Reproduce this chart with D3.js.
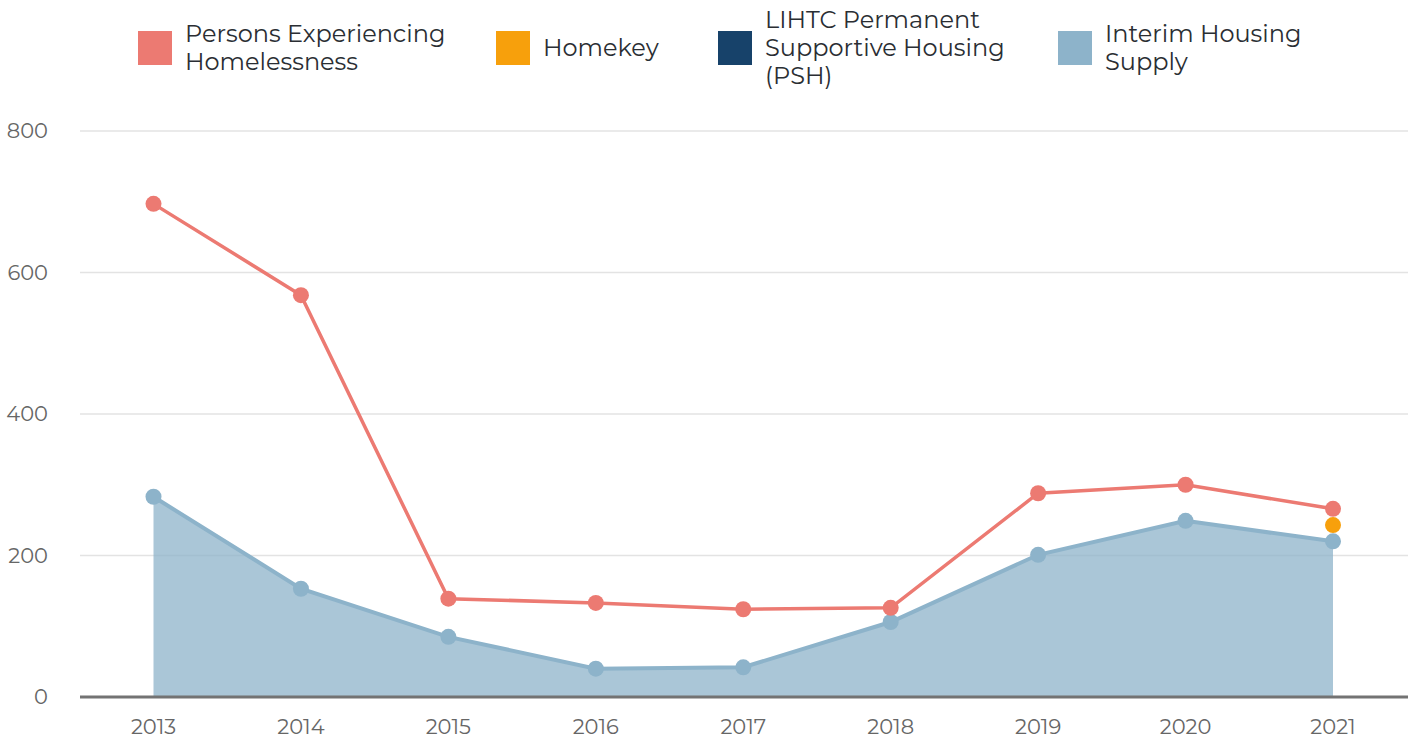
<!DOCTYPE html>
<html><head><meta charset="utf-8">
<script src="https://cdn.jsdelivr.net/npm/d3@7/dist/d3.min.js"></script>
<style>body{margin:0;background:#fff;} svg{display:block;}</style>
</head><body>
<svg id="chart" width="1413" height="739"></svg>
<script>
const years = [2013, 2014, 2015, 2016, 2017, 2018, 2019, 2020, 2021];
const persons = [697, 568, 139, 133, 124, 126, 288, 300, 266];
const interim = [283, 153, 85, 40, 42, 106, 201, 249, 220];
const homekey = [null, null, null, null, null, null, null, null, 243];
const lihtc = [null, null, null, null, null, null, null, null, null];
const yTicks = [0, 200, 400, 600, 800];
const legendItems = [
  {lines: ["Persons Experiencing", "Homelessness"], color: "#ec7a72"},
  {lines: ["Homekey"], color: "#f7a00c"},
  {lines: ["LIHTC Permanent", "Supportive Housing", "(PSH)"], color: "#17426a"},
  {lines: ["Interim Housing", "Supply"], color: "#8db3ca"}
];

(function(){
const svg = d3.select("#chart");
const font = "Montserrat, 'DejaVu Sans', sans-serif";
const pLeft = 80, pRight = 1408, pTop = 131, pBottom = 697;

const x = d3.scalePoint().domain(years).range([153.5, 1333]);
const y = d3.scaleLinear().domain([0, 800]).range([pBottom, pTop]);

svg.append("g").selectAll("line").data(yTicks.filter(d => d > 0)).join("line")
  .attr("x1", pLeft).attr("x2", pRight)
  .attr("y1", d => y(d)).attr("y2", d => y(d))
  .attr("stroke", "#e3e3e3").attr("stroke-width", 1.3);

svg.append("g").selectAll("text").data(yTicks).join("text")
  .attr("x", 48).attr("y", d => y(d)).attr("dy", "0.35em")
  .attr("text-anchor", "end").attr("font-family", font).attr("font-size", 21)
  .attr("fill", "#666").text(d => d);

const pts = years.map((yr, i) => ({yr, v: interim[i]}));
svg.append("path").datum(pts)
  .attr("d", d3.area().x(d => x(d.yr)).y0(y(0)).y1(d => y(d.v)))
  .attr("fill", "#8db3ca").attr("fill-opacity", 0.75);
svg.append("path").datum(pts)
  .attr("d", d3.line().x(d => x(d.yr)).y(d => y(d.v)))
  .attr("fill", "none").attr("stroke", "#8db3ca").attr("stroke-width", 4);

svg.append("line").attr("x1", pLeft).attr("x2", pRight)
  .attr("y1", pBottom).attr("y2", pBottom)
  .attr("stroke", "#737373").attr("stroke-width", 3);

const pp = years.map((yr, i) => ({yr, v: persons[i]}));
svg.append("path").datum(pp)
  .attr("d", d3.line().x(d => x(d.yr)).y(d => y(d.v)))
  .attr("fill", "none").attr("stroke", "#ec7a72").attr("stroke-width", 3.5);

svg.append("g").selectAll("circle").data(pts).join("circle")
  .attr("cx", d => x(d.yr)).attr("cy", d => y(d.v)).attr("r", 8)
  .attr("fill", "#8db3ca");
svg.append("g").selectAll("circle").data(pp).join("circle")
  .attr("cx", d => x(d.yr)).attr("cy", d => y(d.v)).attr("r", 8)
  .attr("fill", "#ec7a72");
const hk = years.map((yr, i) => ({yr, v: homekey[i]})).filter(d => d.v != null);
svg.append("g").selectAll("circle").data(hk).join("circle")
  .attr("cx", d => x(d.yr)).attr("cy", d => y(d.v)).attr("r", 8)
  .attr("fill", "#f7a00c");

svg.append("g").selectAll("text").data(years).join("text")
  .attr("x", d => x(d)).attr("y", 727).attr("dy", "0.35em")
  .attr("text-anchor", "middle").attr("font-family", font).attr("font-size", 21)
  .attr("fill", "#666").text(d => d);

const legX = [138, 496, 718, 1058];
const lg = svg.append("g");
legendItems.forEach((it, i) => {
  const g = lg.append("g").attr("transform", `translate(${legX[i]},0)`);
  g.append("rect").attr("x", 0).attr("y", 31).attr("width", 34).attr("height", 34)
    .attr("fill", it.color);
  const n = it.lines.length;
  const lh = 28;
  const start = 48 - (n - 1) * lh / 2;
  it.lines.forEach((l, j) => {
    g.append("text").attr("x", 47).attr("y", start + j * lh).attr("dy", "0.35em")
      .attr("font-family", font).attr("font-size", 24).attr("fill", "#2a2e33").text(l);
  });
});
})();
</script>
</body></html>
